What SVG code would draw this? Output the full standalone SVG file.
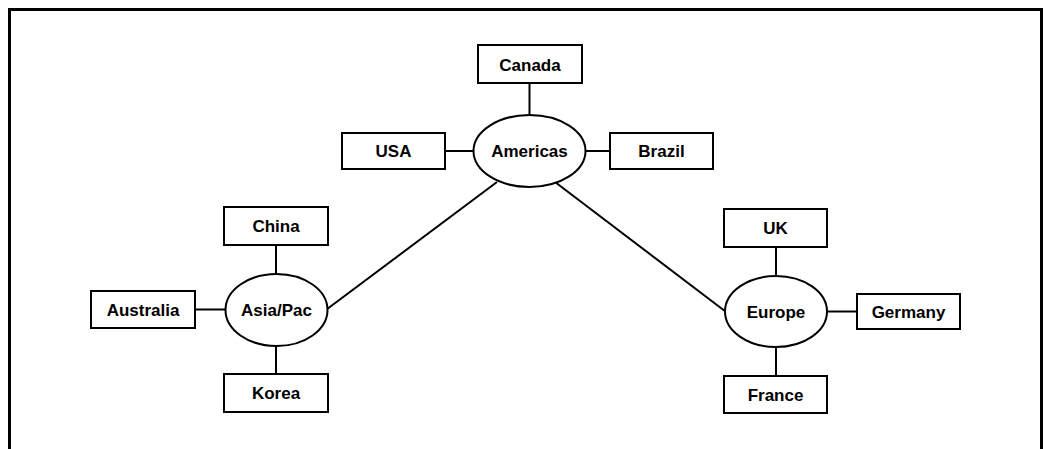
<svg xmlns="http://www.w3.org/2000/svg" width="1043" height="449" viewBox="0 0 1043 449">
  <style>
    .box { fill: #fff; stroke: #000; stroke-width: 2; }
    .hub { fill: #fff; stroke: #000; stroke-width: 2; }
    .link { stroke: #000; stroke-width: 2; fill: none; }
    .label { font-family: "Liberation Sans", Arial, sans-serif; font-weight: bold; font-size: 17px; text-anchor: middle; fill: #000; }
  </style>
  <rect width="1043" height="449" fill="#fff"/>
  <!-- open frame: left, top, right -->
  <path d="M9.5,449 V9.5 H1041.5 V449" fill="none" stroke="#000" stroke-width="3"/>

  <g id="connectors">
    <line class="link" x1="529.5" y1="83" x2="529.5" y2="115"/>
    <line class="link" x1="445" y1="151" x2="473" y2="151"/>
    <line class="link" x1="585" y1="151" x2="610" y2="151"/>
    <line class="link" x1="497" y1="182" x2="326.5" y2="309.5"/>
    <line class="link" x1="555" y1="182" x2="725.5" y2="311.5"/>
    <line class="link" x1="276" y1="245" x2="276" y2="274"/>
    <line class="link" x1="195" y1="309.5" x2="226" y2="309.5"/>
    <line class="link" x1="276" y1="346" x2="276" y2="374"/>
    <line class="link" x1="776" y1="247" x2="776" y2="276"/>
    <line class="link" x1="827" y1="311.5" x2="857" y2="311.5"/>
    <line class="link" x1="776" y1="347" x2="776" y2="376"/>
  </g>

  <g id="americas">
    <ellipse class="hub" cx="529.5" cy="151" rx="56" ry="36"/>
    <text class="label" x="529.5" y="157">Americas</text>
  </g>
  <g id="canada">
    <rect class="box" x="478" y="45" width="104" height="38"/>
    <text class="label" x="530" y="70.5">Canada</text>
  </g>
  <g id="usa">
    <rect class="box" x="342" y="133" width="103" height="36"/>
    <text class="label" x="393.5" y="157">USA</text>
  </g>
  <g id="brazil">
    <rect class="box" x="610" y="133" width="103" height="36"/>
    <text class="label" x="661.5" y="157">Brazil</text>
  </g>

  <g id="asiapac">
    <ellipse class="hub" cx="276.5" cy="310" rx="51" ry="36"/>
    <text class="label" x="276.5" y="316">Asia/Pac</text>
  </g>
  <g id="china">
    <rect class="box" x="224" y="207" width="104" height="38"/>
    <text class="label" x="276" y="232">China</text>
  </g>
  <g id="australia">
    <rect class="box" x="91" y="291" width="104" height="37"/>
    <text class="label" x="143" y="315.5">Australia</text>
  </g>
  <g id="korea">
    <rect class="box" x="224" y="374" width="104" height="38"/>
    <text class="label" x="276" y="399">Korea</text>
  </g>

  <g id="europe">
    <ellipse class="hub" cx="776" cy="311.5" rx="51" ry="35.5"/>
    <text class="label" x="776" y="317.5">Europe</text>
  </g>
  <g id="uk">
    <rect class="box" x="724" y="209" width="103" height="38"/>
    <text class="label" x="775.5" y="234">UK</text>
  </g>
  <g id="germany">
    <rect class="box" x="857" y="294" width="103" height="35"/>
    <text class="label" x="908.5" y="317.5">Germany</text>
  </g>
  <g id="france">
    <rect class="box" x="724" y="376" width="103" height="37"/>
    <text class="label" x="775.5" y="400.5">France</text>
  </g>
</svg>
